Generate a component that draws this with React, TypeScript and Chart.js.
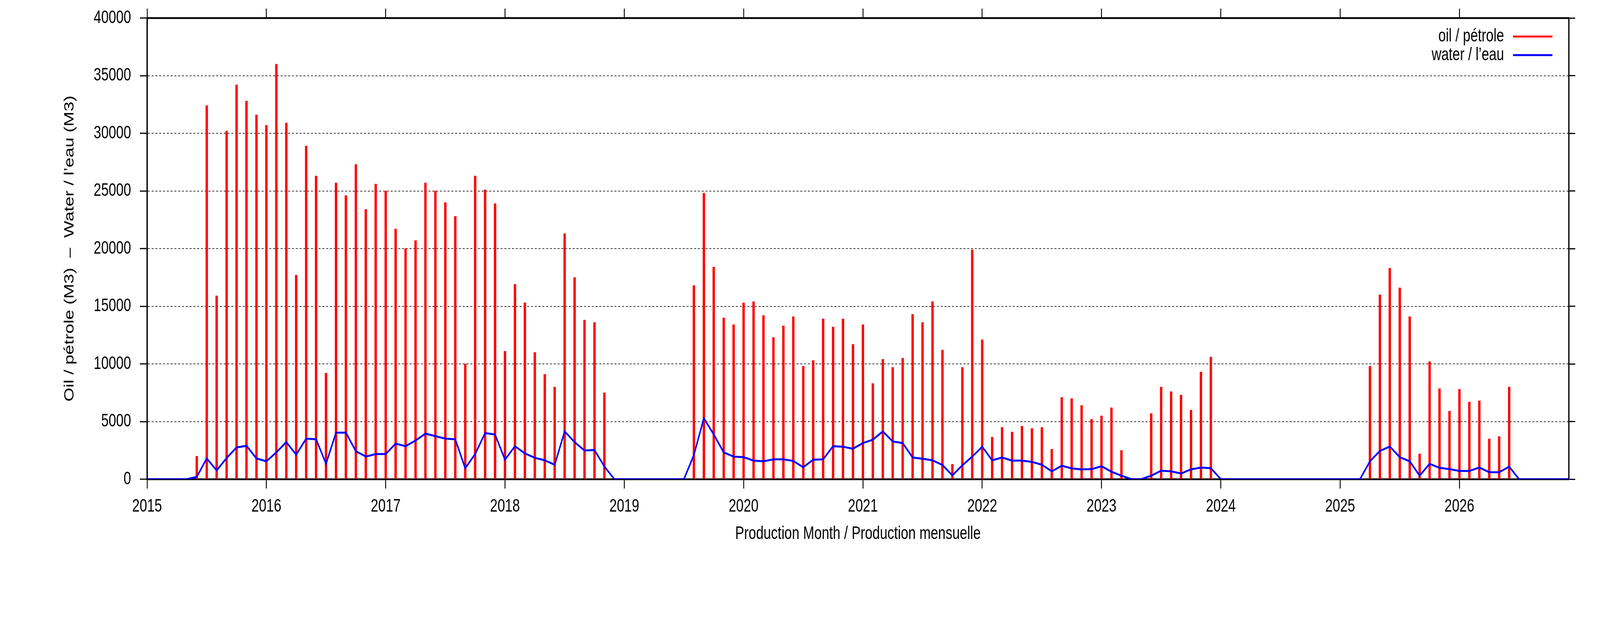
import { useEffect, useRef } from "react";
import { Chart, registerables } from "chart.js";

Chart.register(...registerables);

// x axis: one slot per month, Jan 2015 .. Dec 2026
const years = ["2015", "2016", "2017", "2018", "2019", "2020", "2021", "2022", "2023", "2024", "2025", "2026"];
const monthNums = ["01", "02", "03", "04", "05", "06", "07", "08", "09", "10", "11", "12"];
const months = years.flatMap((y) => monthNums.map((m) => `${y}-${m}`));

// monthly oil volumes (M3), Jan..Dec per row
const oil = [
  0, 0, 0, 0, 0, 2000, 32400, 15900, 30200, 34200, 32800, 31600, // 2015
  30700, 36000, 30900, 17700, 28900, 26300, 9200, 25700, 24600, 27300, 23400, 25600, // 2016
  25000, 21700, 20000, 20700, 25700, 25000, 24000, 22800, 10000, 26300, 25100, 23900, // 2017
  11100, 16900, 15300, 11000, 9100, 8000, 21300, 17500, 13800, 13600, 7500, 0, // 2018
  0, 0, 0, 0, 0, 0, 0, 16800, 24800, 18400, 14000, 13400, // 2019
  15300, 15400, 14200, 12300, 13300, 14100, 9800, 10300, 13900, 13200, 13900, 11700, // 2020
  13400, 8300, 10400, 9700, 10500, 14300, 13600, 15400, 11200, 1300, 9700, 19900, // 2021
  12100, 3650, 4500, 4100, 4600, 4400, 4500, 2600, 7100, 7000, 6400, 5200, // 2022
  5500, 6200, 2500, 0, 0, 5700, 8000, 7600, 7300, 6000, 9300, 10600, // 2023
  0, 0, 0, 0, 0, 0, 0, 0, 0, 0, 0, 0, // 2024
  0, 0, 0, 9800, 16000, 18300, 16600, 14100, 2200, 10200, 7850, 5900, // 2025
  7800, 6700, 6800, 3500, 3700, 8000, 0, 0, 0, 0, 0, 0, // 2026
];

// monthly water volumes (M3)
const water = [
  0, 0, 0, 0, 0, 200, 1800, 760, 1830, 2750, 2890, 1800, // 2015
  1550, 2320, 3215, 2125, 3515, 3460, 1335, 4030, 4030, 2425, 1960, 2180, // 2016
  2180, 3080, 2860, 3350, 3950, 3730, 3515, 3460, 950, 2180, 4000, 3870, // 2017
  1690, 2860, 2230, 1850, 1635, 1250, 4140, 3215, 2480, 2530, 1090, 0, // 2018
  0, 0, 0, 0, 0, 0, 0, 2100, 5290, 3870, 2320, 1960, // 2019
  1910, 1610, 1550, 1720, 1720, 1580, 1035, 1690, 1720, 2860, 2810, 2640, // 2020
  3130, 3430, 4140, 3270, 3130, 1880, 1770, 1635, 1230, 330, 1200, 1960, // 2021
  2810, 1635, 1880, 1610, 1610, 1500, 1250, 680, 1170, 930, 850, 870, // 2022
  1120, 650, 300, 0, 0, 300, 740, 680, 490, 850, 1010, 950, // 2023
  0, 0, 0, 0, 0, 0, 0, 0, 0, 0, 0, 0, // 2024
  0, 0, 0, 1550, 2450, 2830, 1910, 1550, 300, 1335, 980, 870, // 2025
  710, 710, 1010, 600, 600, 1090, 0, 0, 0, 0, 0, 0, // 2026
];

const FONT = "'Liberation Sans', Arial, Helvetica, sans-serif";
// drawing size of the chart (the canvas is shown at the window's width)
const W = 5483;
const H = 1594;

// gnuplot-style key: text right-aligned, line sample to its right
const keyPlugin = {
  id: "gnuKey",
  afterDraw(chart: any) {
    const { ctx, chartArea } = chart;
    ctx.save();
    ctx.font = `46px ${FONT}`;
    ctx.textAlign = "right";
    ctx.textBaseline = "middle";
    chart.data.datasets.forEach((ds: any, i: number) => {
      const y = chartArea.top + 47.5 + i * 47.5;
      ctx.fillStyle = "#000";
      ctx.fillText(ds.label, chartArea.right - 222, y);
      ctx.strokeStyle = ds.borderColor || ds.backgroundColor;
      ctx.lineWidth = 5;
      ctx.beginPath();
      ctx.moveTo(chartArea.right - 191, y);
      ctx.lineTo(chartArea.right - 56, y);
      ctx.stroke();
    });
    ctx.restore();
  },
};

const yearTickWidth = (c: any) => (c.index % 12 === 0 ? 3 : 0);

export default function App() {
  const canvasRef = useRef<HTMLCanvasElement | null>(null);
  const viewW = typeof window !== "undefined" ? Math.min(window.innerWidth, W) : W;

  useEffect(() => {
    if (!canvasRef.current) return;

    const chart = new Chart(canvasRef.current, {
      type: "bar",
      data: {
        labels: months,
        datasets: [
          {
            type: "bar",
            label: "oil / pétrole",
            data: oil,
            backgroundColor: "#ff0000",
            borderWidth: 0,
            barThickness: 7.5,
            order: 1,
          },
          {
            type: "line",
            label: "water / l’eau",
            data: water,
            borderColor: "#0000ff",
            backgroundColor: "#0000ff",
            borderWidth: 5,
            pointRadius: 0,
            tension: 0,
            fill: false,
            order: 0,
          },
        ],
      },
      options: {
        responsive: false,
        animation: false,
        devicePixelRatio: 1,
        events: [],
        layout: { padding: 0 },
        plugins: {
          legend: { display: false },
          tooltip: { enabled: false },
        },
        scales: {
          x: {
            type: "category",
            position: "bottom",
            offset: false,
            grid: {
              offset: false,
              drawOnChartArea: false,
              tickLength: 24,
              tickColor: "#000",
              tickWidth: yearTickWidth,
            },
            border: { color: "#000", width: 4.5 },
            ticks: {
              autoSkip: false,
              maxRotation: 0,
              minRotation: 0,
              padding: 19,
              color: "#000",
              font: { family: FONT, size: 46 },
              callback: (_v: any, i: number) => (i % 12 === 0 ? years[i / 12] : ""),
            },
            title: {
              display: true,
              text: "Production Month / Production mensuelle",
              color: "#000",
              font: { family: FONT, size: 46 },
              padding: { top: 0, bottom: 200 },
            },
            afterFit: (s: any) => {
              s.height = H - 1226;
              s.paddingLeft = 0;
              s.paddingRight = 0;
            },
          },
          x2: {
            type: "category",
            position: "top",
            offset: false,
            grid: {
              offset: false,
              drawOnChartArea: false,
              tickLength: 24,
              tickColor: "#000",
              tickWidth: yearTickWidth,
            },
            border: { color: "#000", width: 4.5 },
            ticks: { display: false, autoSkip: false },
            afterFit: (s: any) => {
              s.height = 46;
              s.paddingLeft = 0;
              s.paddingRight = 0;
            },
          },
          y: {
            type: "linear",
            position: "left",
            min: 0,
            max: 40000,
            grid: {
              color: "rgba(0,0,0,0.8)",
              lineWidth: 2,
              tickLength: 25,
              tickColor: "#000",
              tickWidth: 3,
              tickBorderDash: [],
            },
            border: { color: "#000", width: 4.5, dash: [7, 6] },
            ticks: {
              stepSize: 5000,
              padding: 30,
              color: "#000",
              font: { family: FONT, size: 46 },
              callback: (v: any) => String(v),
            },
            title: {
              display: true,
              text: "Oil / pétrole (M3)  –  Water / l’eau (M3)",
              color: "#000",
              font: { family: FONT, size: 46 },
              padding: { top: 212, bottom: 0 },
            },
            afterFit: (s: any) => {
              s.width = 504;
              s.paddingTop = 0;
              s.paddingBottom = 0;
            },
          },
          y2: {
            type: "linear",
            position: "right",
            min: 0,
            max: 40000,
            grid: {
              drawOnChartArea: false,
              tickLength: 22,
              tickColor: "#000",
              tickWidth: 3,
              tickBorderDash: [],
            },
            border: { color: "#000", width: 4.5 },
            ticks: { display: false, stepSize: 5000 },
            afterFit: (s: any) => {
              s.width = W - 5376;
              s.paddingTop = 0;
              s.paddingBottom = 0;
            },
          },
        },
      },
      plugins: [keyPlugin],
    } as any);

    return () => chart.destroy();
  }, []);

  return (
    <div style={{ position: "absolute", left: 0, top: 0, width: viewW, height: H, background: "#fff" }}>
      <canvas
        ref={canvasRef}
        width={W}
        height={H}
        style={{ display: "block", width: viewW, height: H }}
      ></canvas>
    </div>
  );
}
